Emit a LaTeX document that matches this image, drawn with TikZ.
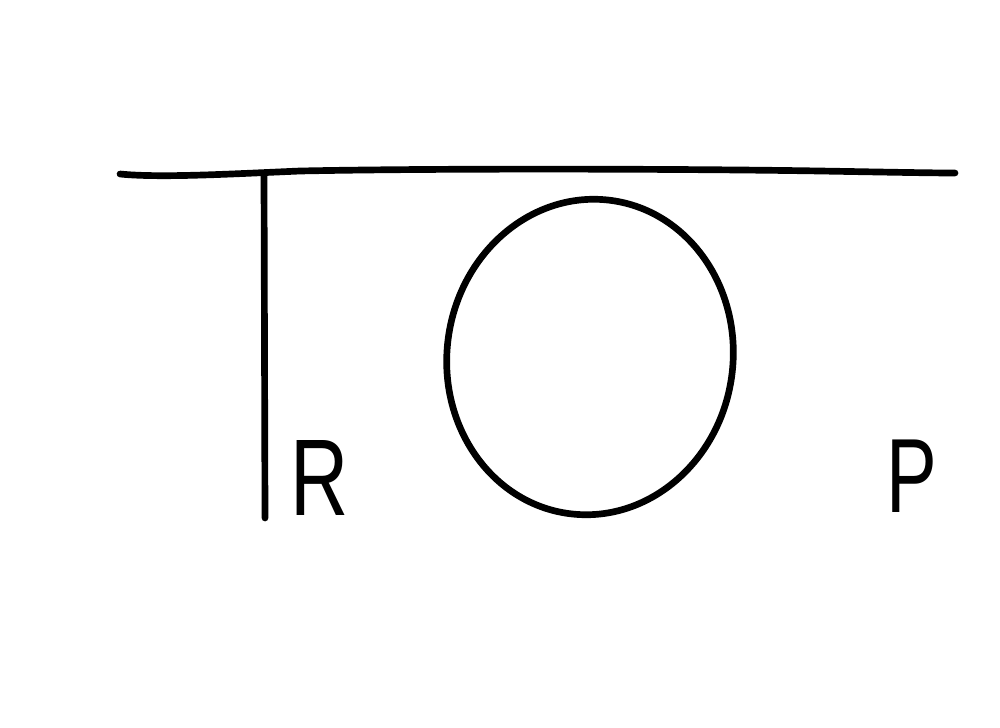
\documentclass[tikz,border=0pt]{standalone}
\usepackage{fontspec}
\setmainfont{Liberation Sans}
\begin{document}
\begin{tikzpicture}[x=0.01cm,y=-0.01cm,
  ink/.style={line width=1.9pt,line cap=round,line join=round},
  letter/.style={inner sep=0pt,font=\fontsize{31}{31}\selectfont}]
\useasboundingbox (0,0) rectangle (1000,727);
\coordinate (hl) at (120,174);
\coordinate (hr) at (955,173);
\coordinate (vt) at (264,174);
\coordinate (vb) at (265,518);
\coordinate (oc) at (590,357);
\draw[ink] (hl) .. controls (160,178) and (230,174) .. (300,171)
  .. controls (450,168) and (700,169) .. (820,171)
  .. controls (880,172) and (930,173) .. (hr);
\draw[ink] (vt) -- (vb);
\draw[ink, rotate around={-8:(oc)}] (oc) ellipse [x radius=143, y radius=158];
\node[letter] (R) at (320,478) {\scalebox{0.74}[1]{R}};
\node[letter] (P) at (912,476) {\scalebox{0.72}[1]{\fontsize{30}{30}\selectfont P}};
\end{tikzpicture}
\end{document}
